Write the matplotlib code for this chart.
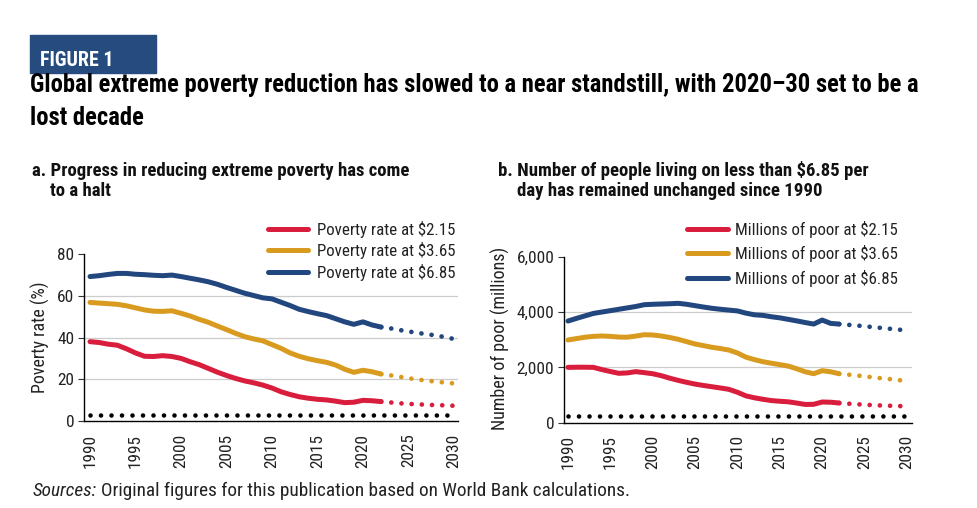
import matplotlib
matplotlib.use("Agg")
import matplotlib.pyplot as plt
from matplotlib.patches import Rectangle
from matplotlib import font_manager as fm
from matplotlib.font_manager import FontProperties

# ---------------- data ----------------
years = list(range(1990, 2023))
proj_years = list(range(2022, 2031))
target_years = [1990, 2030]

rate_215 = [38.0, 37.6, 36.8, 36.3, 34.6, 32.6, 31.0, 30.9, 31.3, 30.9, 30.0,
            28.4, 27.0, 25.2, 23.4, 21.8, 20.4, 19.2, 18.3, 17.2, 15.8, 14.0,
            12.7, 11.6, 10.9, 10.4, 10.1, 9.5, 8.8, 9.0, 9.9, 9.7, 9.3]
rate_365 = [56.8, 56.5, 56.2, 55.9, 55.2, 54.2, 53.2, 52.6, 52.5, 52.8, 51.6,
            50.3, 48.7, 47.3, 45.5, 43.8, 42.0, 40.4, 39.3, 38.4, 36.6, 34.8,
            32.6, 31.0, 29.8, 28.9, 28.1, 26.8, 24.8, 23.3, 24.3, 23.6, 22.5]
rate_685 = [69.2, 69.6, 70.2, 70.7, 70.7, 70.3, 70.1, 69.8, 69.6, 69.9, 69.2,
            68.4, 67.6, 66.7, 65.5, 64.0, 62.6, 61.2, 60.1, 59.0, 58.5, 56.9,
            55.3, 53.5, 52.4, 51.4, 50.5, 49.0, 47.5, 46.3, 47.5, 46.0, 45.0]
rate_215_proj = [9.3, 8.9, 8.5, 8.2, 8.0, 7.8, 7.6, 7.5, 7.3]
rate_365_proj = [22.5, 21.9, 21.2, 20.5, 19.9, 19.3, 18.9, 18.4, 18.0]
rate_685_proj = [45.0, 44.4, 43.6, 42.9, 42.2, 41.6, 41.0, 40.2, 39.3]
rate_target = [3.0, 3.0]

poor_215 = [2000, 2005, 2005, 2000, 1920, 1850, 1785, 1800, 1845, 1810, 1770,
            1700, 1610, 1530, 1460, 1395, 1345, 1300, 1255, 1205, 1100, 970,
            900, 846, 800, 775, 755, 710, 660, 665, 748, 740, 712]
poor_365 = [2990, 3040, 3090, 3120, 3135, 3120, 3095, 3090, 3130, 3180, 3170,
            3135, 3080, 3015, 2930, 2845, 2785, 2725, 2680, 2625, 2520, 2370,
            2280, 2205, 2150, 2100, 2045, 1950, 1840, 1770, 1880, 1840, 1770]
poor_685 = [3675, 3770, 3860, 3950, 4000, 4050, 4100, 4150, 4200, 4265, 4280,
            4290, 4300, 4315, 4280, 4230, 4180, 4135, 4100, 4070, 4040, 3960,
            3900, 3880, 3830, 3790, 3735, 3680, 3620, 3565, 3710, 3590, 3565]
poor_215_proj = [712, 690, 670, 650, 635, 622, 612, 602, 593]
poor_365_proj = [1770, 1740, 1710, 1675, 1640, 1605, 1575, 1540, 1505]
poor_685_proj = [3565, 3540, 3515, 3485, 3455, 3425, 3395, 3365, 3335]
poor_target = [250, 250]

left_labels = ['Poverty rate at $2.15', 'Poverty rate at $3.65', 'Poverty rate at $6.85']
right_labels = ['Millions of poor at $2.15', 'Millions of poor at $3.65', 'Millions of poor at $6.85']
xticks = [1990, 1995, 2000, 2005, 2010, 2015, 2020, 2025, 2030]
left_yticks = [0, 20, 40, 60, 80]
right_yticks = [0, 2000, 4000, 6000]

RED = '#d81e3c'
GOLD = '#d99b1f'
NAVY = '#22467e'
BOX = '#254b7f'
TXT = '#222222'
colors = [RED, GOLD, NAVY]


# ---------------- fonts: prefer a narrow / condensed sans ----------------
def pick_fonts():
    pref = ['liberation sans narrow', 'roboto condensed', 'open sans condensed',
            'noto sans condensed', 'dejavu sans condensed', 'dejavu sans',
            'noto sans', 'open sans']
    cands = []
    for f in fm.fontManager.ttflist:
        key = (f.name + ' ' + f.fname).lower()
        if 'mono' in key or 'cjk' in key:
            continue
        if 'serif' in key and 'sans' not in key:
            continue
        compact = key.replace(' ', '').replace('-', '')
        if 'extracondensed' in compact or 'semicondensed' in compact:
            continue
        narrow = ('narrow' in key or 'condensed' in key or 'cond' in key
                  or str(f.stretch) in ('condensed',))
        if not narrow:
            continue
        rank = len(pref)
        for i, p in enumerate(pref):
            if p in key:
                rank = i
                break
        cands.append((rank, f))
    if not cands:
        return None
    cands.sort(key=lambda t: t[0])
    best_rank = cands[0][0]
    group = [f for r, f in cands if r == best_rank]

    def w(f):
        try:
            return int(f.weight)
        except Exception:
            return {'normal': 400, 'regular': 400, 'bold': 700}.get(str(f.weight), 400)

    def choose(weight, italic):
        best = None
        for f in group:
            it = f.style in ('italic', 'oblique')
            score = abs(w(f) - weight) + (0 if it == italic else 1000)
            if best is None or score < best[0]:
                best = (score, f)
        return best[1].fname

    return {'regular': choose(400, False), 'bold': choose(700, False),
            'italic': choose(400, True)}


FONTS = pick_fonts()


def fp(kind='regular', size=12):
    if FONTS is None:
        return FontProperties(family='DejaVu Sans', size=size,
                              weight='bold' if kind == 'bold' else 'normal',
                              style='italic' if kind == 'italic' else 'normal')
    return FontProperties(fname=FONTS[kind], size=size)


W, H = 977, 508
fig = plt.figure(figsize=(W / 100, H / 100), dpi=100)
renderer = fig.canvas.get_renderer()


def fx(px):
    return px / W


def fy(py):
    return 1 - py / H


def fit(t, target, kind, size, vertical=False):
    t.set_fontproperties(fp(kind, size))
    bb = t.get_window_extent(renderer)
    cur = bb.height if vertical else bb.width
    new = size * target / cur
    t.set_fontproperties(fp(kind, new))
    return new


def make_ax(l, r, t, b):
    return fig.add_axes([fx(l), fy(b), fx(r) - fx(l), fy(t) - fy(b)])


def style(ax, yticks, fmt, xlim, ylim, tsize):
    ax.set_xlim(*xlim)
    ax.set_ylim(*ylim)
    ax.set_xticks(xticks)
    ax.set_xticklabels([str(v) for v in xticks], rotation=90, color=TXT)
    ax.set_yticks(yticks)
    ax.set_yticklabels([fmt(v) for v in yticks], color=TXT)
    for lab in ax.get_xticklabels() + ax.get_yticklabels():
        lab.set_fontproperties(fp('regular', tsize))
    ax.tick_params(axis='x', length=0, pad=9)
    ax.tick_params(axis='y', length=4, width=0.8, pad=3, color='#333333')
    for s in ['top', 'right']:
        ax.spines[s].set_visible(False)
    ax.spines['left'].set_linewidth(1.0)
    ax.spines['bottom'].set_linewidth(1.0)
    for v in yticks[1:-1]:
        ax.axhline(v, color='#cccccc', lw=0.9, zorder=0)


def draw(ax, series, projs, target, labels, lw=3.6):
    handles = []
    for s, p, c, lab in zip(series, projs, colors, labels):
        h, = ax.plot(years, s, color=c, lw=lw, solid_capstyle='round',
                     solid_joinstyle='round', label=lab, zorder=3)
        ax.plot(proj_years, p, color=c, lw=3.4, linestyle=(0, (0.01, 2.15)),
                dash_capstyle='round', zorder=3)
        handles.append(h)
    ax.plot(target_years, target, color='black', lw=3.3, linestyle=(0, (0.01, 2.28)),
            dash_capstyle='round', zorder=3)
    return handles


def tick_size():
    t = fig.text(0, 0, '1990', rotation=90)
    s = fit(t, 34, 'regular', 12, vertical=True)
    t.remove()
    return s


TS = tick_size()


def add_legend(ax, handles, labels, x_handle, x_text, x_text_end, row_centers, handle_px):
    t = fig.text(0, 0, labels[0])
    size = fit(t, x_text_end - x_text, 'regular', 12)
    h_px = t.get_window_extent(renderer).height
    t.remove()
    fs_px = size * 100 / 72
    pitch = (row_centers[-1] - row_centers[0]) / (len(row_centers) - 1)
    leg = ax.legend(handles=handles, labels=labels, loc='upper left', frameon=False,
                    bbox_to_anchor=(fx(x_handle), fy(row_centers[0] - h_px / 2)),
                    bbox_transform=fig.transFigure, prop=fp('regular', size),
                    handlelength=handle_px / fs_px,
                    handletextpad=(x_text - x_handle - handle_px) / fs_px,
                    labelspacing=(pitch - h_px) / fs_px, borderpad=0, borderaxespad=0)
    for tt in leg.get_texts():
        tt.set_color(TXT)
    return leg


def place_ylabel(ax, label, length_px, cx_px, cy_px, ax_l, ax_r, ax_t, ax_b):
    yl = ax.set_ylabel(label, color=TXT)
    fit(yl, length_px, 'regular', 12, vertical=True)
    thick = yl.get_window_extent(renderer).width
    # label anchor is at the text's bottom (right side once rotated)
    x_anchor = cx_px + thick / 2
    ax.yaxis.set_label_coords((x_anchor - ax_l) / (ax_r - ax_l),
                              (ax_b - cy_px) / (ax_b - ax_t))


# ---------------- left panel ----------------
axL = make_ax(84, 458, 254, 421)
style(axL, left_yticks, lambda v: f'{v}', (1989.34, 2030.45), (0, 80), TS)
hL = draw(axL, [rate_215, rate_365, rate_685],
          [rate_215_proj, rate_365_proj, rate_685_proj], rate_target, left_labels)
place_ylabel(axL, 'Poverty rate (%)', 111, 40, 337, 84, 458, 254, 421)
add_legend(axL, hL, left_labels, 268, 317, 455, [229, 250.7, 272.7], 40)

# ---------------- right panel ----------------
axR = make_ax(564, 912, 256.7, 422.7)
style(axR, right_yticks, lambda v: f'{v:,}', (1989.53, 2030.6), (0, 6000), TS)
hR = draw(axR, [poor_215, poor_365, poor_685],
          [poor_215_proj, poor_365_proj, poor_685_proj], poor_target, right_labels)
place_ylabel(axR, 'Number of poor (millions)', 183, 500.5, 338, 564, 912, 256.7, 422.7)
add_legend(axR, hR, right_labels, 687, 735, 898, [229, 254, 278.3], 41)

# ---------------- header ----------------
fig.add_artist(Rectangle((fx(30), fy(73)), fx(156) - fx(30), fy(35) - fy(73),
                         transform=fig.transFigure, color=BOX, zorder=1))
tf = fig.text(fx(40), fy(65.5), 'FIGURE 1', color='white', va='baseline', ha='left')
fit(tf, 74, 'bold', 14)

t1 = fig.text(fx(30), fy(92), 'Global extreme poverty reduction has slowed to a near standstill, '
              'with 2020\u201330 set to be a', va='baseline', ha='left', color='black')
tsz = fit(t1, 889, 'bold', 15)
fig.text(fx(30), fy(125), 'lost decade', va='baseline', ha='left', color='black',
         fontproperties=fp('bold', tsz))

sa = fig.text(fx(32), fy(176.5), 'a. Progress in reducing extreme poverty has come',
              va='baseline', ha='left', color='#111111')
ssz = fit(sa, 378, 'bold', 12)
fig.text(fx(50), fy(196), 'to a halt', va='baseline', ha='left', color='#111111',
         fontproperties=fp('bold', ssz))
fig.text(fx(498), fy(176.5), 'b. Number of people living on less than $6.85 per',
         va='baseline', ha='left', color='#111111', fontproperties=fp('bold', ssz))
fig.text(fx(517), fy(196), 'day has remained unchanged since 1990',
         va='baseline', ha='left', color='#111111', fontproperties=fp('bold', ssz))

# ---------------- sources ----------------
s1 = fig.text(fx(33), fy(496), 'Sources:', va='baseline', ha='left', color=TXT)
s2 = fig.text(fx(100), fy(496),
              'Original figures for this publication based on World Bank calculations.',
              va='baseline', ha='left', color=TXT)
size = 13
s1.set_fontproperties(fp('italic', size))
s2.set_fontproperties(fp('regular', size))
w1 = s1.get_window_extent(renderer).width
w2 = s2.get_window_extent(renderer).width
gap = 4
size = size * (595 - gap) / (w1 + w2)
s1.set_fontproperties(fp('italic', size))
s2.set_fontproperties(fp('regular', size))
w1 = s1.get_window_extent(renderer).width
s2.set_x(fx(33 + w1 + gap))

fig.savefig('out.png', dpi=100)
